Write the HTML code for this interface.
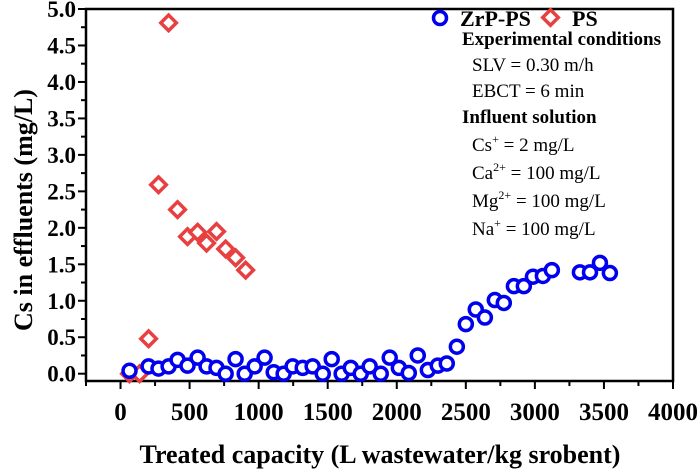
<!DOCTYPE html>
<html><head><meta charset="utf-8"><style>
body{margin:0;background:#fff}
svg{display:block;font-family:"Liberation Serif",serif}
</style></head><body>
<svg id="c" width="700" height="471" viewBox="0 0 700 471">
<g id="axes"></g><g id="marks"></g>
<g>
 <circle cx="440" cy="18" r="6.5" fill="#fff" stroke="#0000ee" stroke-width="3.5"/>
 <text x="460" y="26" font-size="22" font-weight="bold">ZrP-PS</text>
 <rect x="545" y="12" width="11" height="11" transform="rotate(45 550.5 17.5)" fill="#fff" stroke="#e84040" stroke-width="3.5"/>
 <text x="572" y="26" font-size="22" font-weight="bold">PS</text>
</g>
<g font-size="19">
 <text x="462" y="45" font-weight="bold">Experimental conditions</text>
 <text x="472" y="71">SLV = 0.30 m/h</text>
 <text x="472" y="97">EBCT = 6 min</text>
 <text x="462" y="123" font-weight="bold">Influent solution</text>
 <text x="472" y="151">Cs<tspan font-size="12" dy="-8">+</tspan><tspan dy="8"> = 2 mg/L</tspan></text>
 <text x="472" y="179">Ca<tspan font-size="12" dy="-8">2+</tspan><tspan dy="8"> = 100 mg/L</tspan></text>
 <text x="472" y="207">Mg<tspan font-size="12" dy="-8">2+</tspan><tspan dy="8"> = 100 mg/L</tspan></text>
 <text x="472" y="235">Na<tspan font-size="12" dy="-8">+</tspan><tspan dy="8"> = 100 mg/L</tspan></text>
</g>
<text x="380" y="463" text-anchor="middle" font-size="26" font-weight="bold">Treated capacity (L wastewater/kg srobent)</text>
<text transform="translate(32 210) rotate(-90)" text-anchor="middle" font-size="26" font-weight="bold">Cs in effluents (mg/L)</text>
</svg>
<script>
const zrpX=[65,203,275,348,413,485,558,623,695,761,833,899,971,1043,1109,1181,1246,1319,1391,1464,1529,1601,1667,1739,1804,1884,1949,2015,2087,2152,2225,2297,2362,2435,2500,2572,2638,2710,2775,2848,2920,2986,3058,3123,3326,3399,3471,3543];
const zrpY=[0.04,0.1,0.07,0.1,0.19,0.11,0.22,0.1,0.08,0,0.2,0,0.1,0.22,0.02,0,0.1,0.08,0.1,0,0.2,0,0.08,0,0.1,0,0.22,0.08,0.01,0.25,0.05,0.11,0.14,0.37,0.68,0.88,0.77,1.01,0.97,1.2,1.2,1.33,1.34,1.42,1.39,1.39,1.52,1.38];
const psX=[65,138,203,275,348,413,485,558,623,695,761,833,906];
const psY=[0,0,0.48,2.59,4.81,2.25,1.88,1.94,1.79,1.95,1.71,1.59,1.42];
const xTicks=[0,500,1000,1500,2000,2500,3000,3500,4000];
const yTicks=[0,0.5,1,1.5,2,2.5,3,3.5,4,4.5,5];
const L=86,R=673,T=9,B=381,xMin=-250,xMax=4000,yMin=-0.1,yMax=5.0;
const sx=v=>L+(v-xMin)/(xMax-xMin)*(R-L);
const sy=v=>B-(v-yMin)/(yMax-yMin)*(B-T);
const NS="http://www.w3.org/2000/svg";
function mk(t,a,p){const e=document.createElementNS(NS,t);for(const k in a)e.setAttribute(k,a[k]);p.appendChild(e);return e;}
const ax=document.getElementById('axes'),mg=document.getElementById('marks');
const fr=mk('rect',{x:L,y:T,width:R-L,height:B-T,fill:'none',stroke:'#000','stroke-width':2.5},ax);


xTicks.forEach(v=>{const x=sx(v);
 mk('line',{x1:x,y1:B,x2:x,y2:B+8,stroke:'#000','stroke-width':2},ax);
 const m=sx(v+250); if(v<4000) mk('line',{x1:m,y1:B,x2:m,y2:B+5,stroke:'#000','stroke-width':2},ax);
 const t=mk('text',{x:x,y:B+39,'text-anchor':'middle','font-size':25,'font-weight':'bold'},ax);t.textContent=v;
 
 
});
mk('line',{x1:sx(-250),y1:B,x2:sx(-250),y2:B+5,stroke:'#000','stroke-width':2},ax);
yTicks.forEach(v=>{const y=sy(v);
 mk('line',{x1:L-8,y1:y,x2:L,y2:y,stroke:'#000','stroke-width':2},ax);
 if(v<5) mk('line',{x1:L-5,y1:sy(v+0.25),x2:L,y2:sy(v+0.25),stroke:'#000','stroke-width':2},ax);
 const t=mk('text',{x:L-10,y:y+8,'text-anchor':'end','font-size':23,'font-weight':'bold'},ax);t.textContent=v.toFixed(1);
 
 
});
psX.forEach((v,i)=>{const x=sx(v),y=sy(psY[i]);
 const d=mk('rect',{x:x-5.5,y:y-5.5,width:11,height:11,transform:`rotate(45 ${x} ${y})`,fill:'#fff',stroke:'#e84040','stroke-width':3.5},mg);
 
 
});
zrpX.forEach((v,i)=>{const c=mk('circle',{cx:sx(v),cy:sy(zrpY[i]),r:6.5,fill:'#fff',stroke:'#0000ee','stroke-width':3.5},mg);
 
 
});
</script>
</body></html>
